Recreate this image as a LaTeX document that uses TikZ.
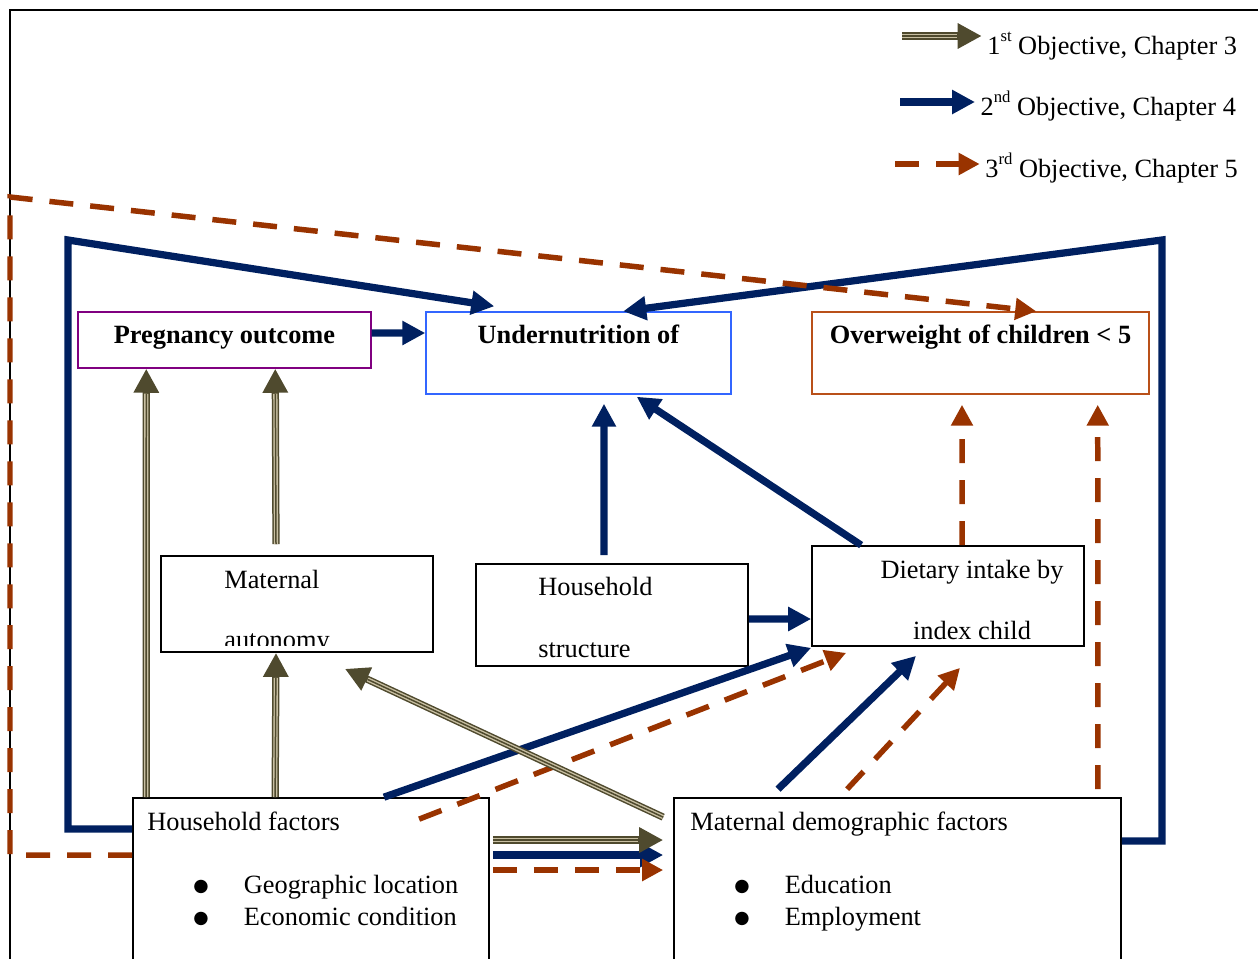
\documentclass[tikz,border=0pt]{standalone}
\usepackage{fontspec}
\setmainfont{Liberation Serif}
\newfontfamily\symfont{DejaVu Sans}
\usetikzlibrary{arrows.meta}

\definecolor{navyc}{RGB}{0,32,96}
\definecolor{rustc}{RGB}{153,51,0}
\definecolor{olivec}{RGB}{79,74,46}
\definecolor{tanc}{RGB}{200,191,162}
\definecolor{purpc}{RGB}{128,0,128}
\definecolor{bluec}{RGB}{51,102,255}
\definecolor{orngc}{RGB}{185,80,25}

\newcommand{\bul}[1]{\makebox[1.01cm][l]{\raisebox{1pt}{\symfont\fontsize{10pt}{10pt}\selectfont ●}}#1}
\newcommand{\sps}[1]{\raisebox{7pt}{\fontsize{9.5pt}{9.5pt}\selectfont #1}}

\tikzset{
  obj1/.style={draw=tanc, line width=0.085cm, shorten >=0.5cm,
    preaction={draw=olivec, line width=0.145cm, shorten >=0pt,
      -{Triangle[length=0.48cm,width=0.48cm]}},
    postaction={draw=olivec, line width=0.03cm}},
  obj2/.style={draw=navyc, line width=0.145cm,
    -{Triangle[length=0.46cm,width=0.46cm]}},
  obj3/.style={draw=rustc, line width=0.11cm, dash pattern=on 0.48cm off 0.34cm,
    -{Triangle[length=0.42cm,width=0.42cm]}},
  box/.style={draw, line width=0.035cm, rectangle, inner sep=0pt},
  lbl/.style={inner sep=0pt, anchor=base west},
  clbl/.style={inner sep=0pt, anchor=base},
  lst/.style={inner sep=0pt, anchor=base west, align=left,
    font=\fontsize{15pt}{18.2pt}\selectfont},
}

\begin{document}
\begin{tikzpicture}[x=0.02cm, y=-0.02cm,
    every node/.style={font=\fontsize{15pt}{18pt}\selectfont}]
  \path[use as bounding box] (0,0) rectangle (1258,958);
  \clip (0,0) rectangle (1258,958);
  \draw[line width=0.035cm] (10,975) -- (10,10) -- (1270,10);

  % boxes
  \node[box, draw=purpc, line width=0.03cm, minimum width=5.86cm, minimum height=1.12cm] (preg) at (224.5,340) {};
  \node[box, draw=bluec, line width=0.03cm, minimum width=6.10cm, minimum height=1.64cm] (under) at (578.5,353) {};
  \node[box, draw=orngc, line width=0.03cm, minimum width=6.74cm, minimum height=1.64cm] (over) at (980.5,353) {};
  \node[box, minimum width=5.44cm, minimum height=1.92cm] (auton) at (297,604) {};
  \node[box, minimum width=5.44cm, minimum height=2.04cm] (hstruct) at (612,615) {};
  \node[box, minimum width=5.44cm, minimum height=2.00cm] (diet) at (948,596) {};
  \node[box, minimum width=7.12cm, minimum height=3.68cm] (hfact) at (311,890) {};
  \node[box, minimum width=8.94cm, minimum height=3.68cm] (mdemo) at (897.5,890) {};

  \node[clbl] (pregt) at (224.5,343) {\textbf{Pregnancy outcome}};
  \node[clbl] (undert) at (578.5,343) {\textbf{Undernutrition of}};
  \node[clbl] (overt) at (980.5,343) {\textbf{Overweight of children < 5}};
  \node[lbl] (autont1) at (224,588) {Maternal};
  \begin{scope}
    \clip (auton.north west) rectangle ([yshift=0.14cm]auton.south east);
    \node[lbl] (autont2) at (224,648) {autonomy};
  \end{scope}
  \node[lbl] (hstructt1) at (538,595) {Household};
  \node[lbl] (hstructt2) at (538,657) {structure};
  \node[clbl] (diett1) at (972,578) {Dietary intake by};
  \node[clbl] (diett2) at (972,639) {index child};
  \node[lbl] (hfactt) at (147,830) {Household factors};
  \node[lst] (hfactl) at (193,925) {\bul{Geographic location}\\\bul{Economic condition}};
  \node[lbl] (mdemot) at (690,830) {Maternal demographic factors};
  \node[lst] (mdemol) at (734,925) {\bul{Education}\\\bul{Employment}};

  % legend
  \node[lbl, inner sep=3pt] (leg1) at (981.7,54) {1\sps{st} Objective, Chapter 3};
  \node[lbl, inner sep=3pt] (leg2) at (975,115) {2\sps{nd} Objective, Chapter 4};
  \node[lbl, inner sep=3pt] (leg3) at (979.7,177) {3\sps{rd} Objective, Chapter 5};
  \coordinate (k1) at (902,36);
  \coordinate (k2) at (900,102);
  \coordinate (k3) at (895,164);
  \draw[obj1] (k1) -- (k1 -| leg1.west);
  \draw[obj2] (k2) -- (k2 -| leg2.west);
  \draw[obj3] (k3) -- (k3 -| leg3.west);

  % 2nd objective
  \coordinate (nl1) at (68,829);
  \coordinate (nl2) at (68,240);
  \coordinate (nr1) at (1162,841);
  \coordinate (nr2) at (1162,240);
  \draw[obj2] ([yshift=0.14cm]preg.east) -- ([yshift=0.40cm]under.west);
  \draw[obj2] (hfact.west |- nl1) -- (nl1) -- (nl2) -- ([xshift=1.38cm,yshift=0.1cm]under.north west);
  \draw[obj2] (mdemo.east |- nr1) -- (nr1) -- (nr2) -- ([xshift=3.96cm]under.north west);
  \draw[obj2] ([xshift=-0.16cm,yshift=0.16cm]hstruct.north) -- ([xshift=0.51cm,yshift=-0.18cm]under.south);
  \draw[obj2] ([xshift=1.0cm]diet.north west) -- ([xshift=-1.9cm,yshift=-0.04cm]under.south east);
  \draw[obj2] ([yshift=-0.08cm]hstruct.east) -- ([yshift=-0.46cm]diet.west);
  \draw[obj2] ([xshift=1.46cm]hfact.north) -- ([yshift=-0.02cm]diet.south west);
  \draw[obj2] ([xshift=-2.39cm,yshift=0.16cm]mdemo.north) -- ([xshift=-0.64cm,yshift=-0.18cm]diet.south);
  \draw[obj2] ([xshift=0.06cm,yshift=0.70cm]hfact.east) -- ([xshift=-0.2cm,yshift=0.70cm]mdemo.west);

  % 3rd objective
  \coordinate (rl1) at (10,855);
  \coordinate (rl2) at (10,197);
  \draw[obj3] (hfact.west |- rl1) -- (rl1) -- (rl2) -- ([xshift=4.5cm]over.north west);
  \draw[obj3] ([xshift=5.74cm,yshift=-0.44cm]hfact.north west) -- ([xshift=0.7cm,yshift=-0.12cm]diet.south west);
  \draw[obj3] ([xshift=3.48cm,yshift=0.16cm]mdemo.north west) -- ([xshift=0.24cm,yshift=-0.42cm]diet.south);
  \draw[obj3] ([xshift=0.28cm]diet.north) -- ([xshift=-0.37cm,yshift=-0.2cm]over.south);
  \draw[obj3] ([xshift=-0.48cm,yshift=0.16cm]mdemo.north east) -- ([xshift=-1.04cm,yshift=-0.2cm]over.south east);
  \draw[obj3] ([xshift=0.06cm,yshift=0.40cm]hfact.east) -- ([xshift=-0.2cm,yshift=0.40cm]mdemo.west);

  % 1st objective
  \draw[obj1] ([xshift=0.28cm]hfact.north west) -- ([xshift=1.38cm]preg.south west);
  \draw[obj1] ([xshift=-0.42cm,yshift=0.22cm]auton.north) -- ([xshift=3.96cm]preg.south west);
  \draw[obj1] ([xshift=2.86cm]hfact.north west) -- ([xshift=-0.42cm]auton.south);
  \draw[obj1] ([xshift=-0.2cm,yshift=-0.4cm]mdemo.north west) -- ([xshift=0.96cm,yshift=-0.32cm]auton.south);
  \draw[obj1] ([xshift=0.06cm,yshift=1.0cm]hfact.east) -- ([xshift=-0.2cm,yshift=1.0cm]mdemo.west);
\end{tikzpicture}
\end{document}
